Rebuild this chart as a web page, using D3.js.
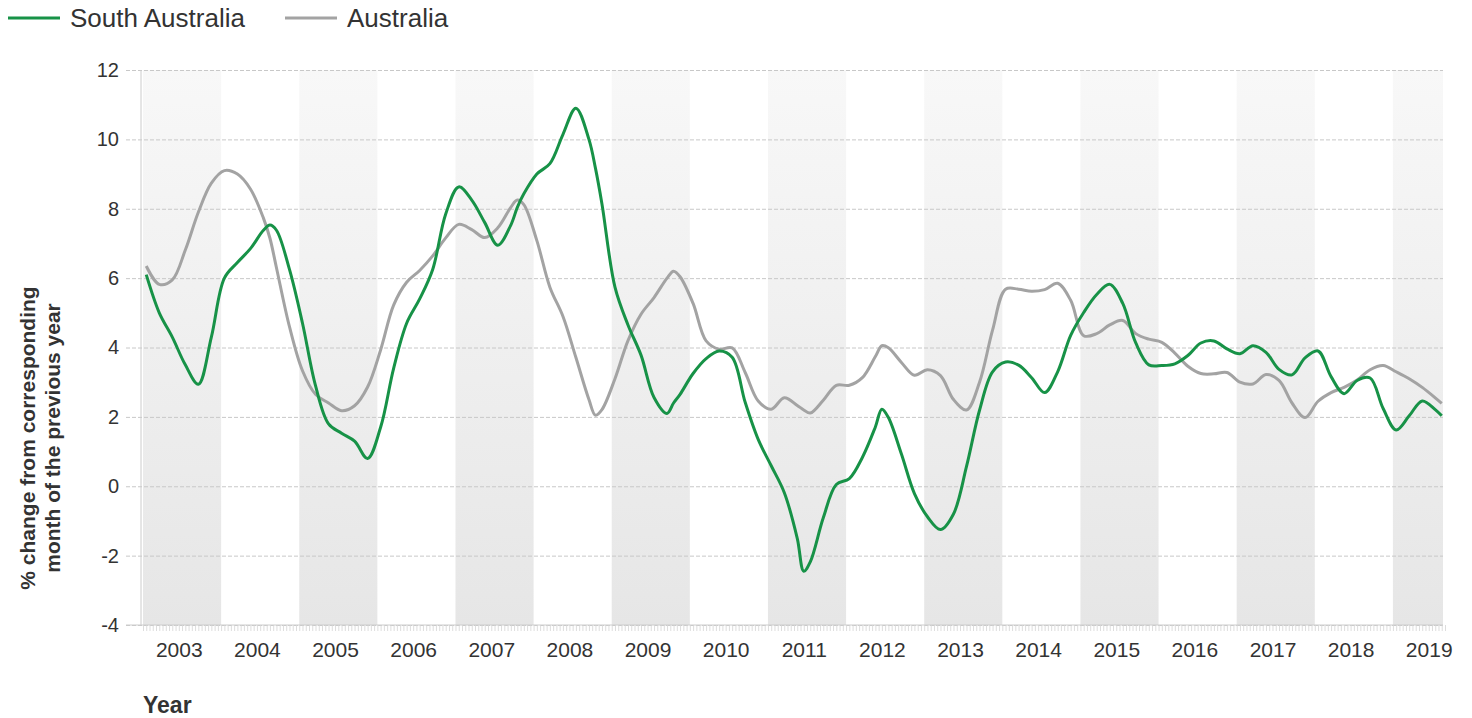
<!DOCTYPE html>
<html>
<head>
<meta charset="utf-8">
<script src="https://cdn.jsdelivr.net/npm/d3@7"></script>
<style>
  body { margin: 0; background: #fff; }
  text { font-family: "Liberation Sans", Arial, sans-serif; fill: #333; }
</style>
</head>
<body>
<div id="chart"></div>
<script>
// sampled months (about every 2 months, extra ones at turning points)
const months = [
  "2003-01","2003-03","2003-05","2003-07","2003-09","2003-11",
  "2004-01","2004-03","2004-05","2004-07","2004-08","2004-09","2004-11",
  "2005-01","2005-03","2005-05","2005-07","2005-09","2005-11",
  "2006-01","2006-03","2006-05","2006-07","2006-09","2006-11",
  "2007-01","2007-03","2007-05","2007-07","2007-09","2007-10","2007-11",
  "2008-01","2008-03","2008-05","2008-07","2008-09","2008-10","2008-11",
  "2009-01","2009-03","2009-05","2009-07","2009-09","2009-10","2009-11",
  "2010-01","2010-03","2010-05","2010-07","2010-09","2010-11",
  "2011-01","2011-03","2011-05","2011-06","2011-07","2011-09","2011-11",
  "2012-01","2012-03","2012-05","2012-06","2012-07","2012-09","2012-11",
  "2013-01","2013-03","2013-05","2013-07","2013-09","2013-11",
  "2014-01","2014-03","2014-05","2014-07","2014-09","2014-11",
  "2015-01","2015-03","2015-05","2015-07","2015-09","2015-11",
  "2016-01","2016-03","2016-05","2016-07","2016-09","2016-11",
  "2017-01","2017-03","2017-05","2017-07","2017-09","2017-11",
  "2018-01","2018-03","2018-05","2018-07","2018-09","2018-11",
  "2019-01","2019-03","2019-05","2019-07","2019-08"
];

const southAustralia = [
  6.1, 5.0, 4.3, 3.5, 2.94, 4.3,
  6.0, 6.45, 6.85, 7.38, 7.53, 7.38, 6.25,
  4.7, 2.9, 1.8, 1.53, 1.3, 0.8,
  1.7, 3.4, 4.7, 5.4, 6.25, 7.85,
  8.63, 8.25, 7.6, 6.95, 7.53, 8.04, 8.43,
  9.0, 9.3, 10.14, 10.9, 10.0, 9.17, 8.14,
  5.74, 4.65, 3.78, 2.56, 2.1, 2.4, 2.65,
  3.25, 3.68, 3.9, 3.72, 2.42, 1.35,
  0.59, -0.18, -1.5, -2.45, -2.18, -0.91, 0.05,
  0.22, 0.83, 1.71, 2.22, 1.98, 0.93, -0.21,
  -0.88, -1.25, -0.8, 0.57, 2.19, 3.3,
  3.58, 3.49, 3.13, 2.7, 3.3, 4.35,
  5.01, 5.53, 5.82, 5.27, 4.13, 3.5,
  3.48, 3.53, 3.77, 4.13, 4.19, 3.96,
  3.82, 4.05, 3.86, 3.37, 3.21, 3.7,
  3.9, 3.16, 2.67, 3.05, 3.12, 2.24,
  1.62, 2.03, 2.46, 2.21, 2.03
];

const australia = [
  6.35, 5.82, 5.95, 6.81, 7.9, 8.74,
  9.1, 9.0, 8.57, 7.73, 7.15, 6.3, 4.6,
  3.33, 2.65, 2.4, 2.18, 2.32, 2.86,
  3.93, 5.22, 5.88, 6.22, 6.64, 7.16,
  7.55, 7.4, 7.17, 7.45, 8.04, 8.25, 8.12,
  7.08, 5.74, 4.9, 3.71, 2.5, 2.05, 2.21,
  3.1, 4.2, 4.96, 5.44, 6.0, 6.2, 6.04,
  5.27, 4.19, 3.95, 3.99, 3.28, 2.46,
  2.22, 2.55, 2.33, 2.2, 2.11, 2.48, 2.91,
  2.91, 3.13, 3.74, 4.05, 3.99, 3.57, 3.2,
  3.36, 3.19, 2.5, 2.2, 3.0, 4.5,
  5.68, 5.68, 5.62, 5.67, 5.85, 5.36,
  4.34, 4.4, 4.65, 4.78, 4.4, 4.24,
  4.15, 3.84, 3.46, 3.25, 3.24, 3.28,
  3.0, 2.95, 3.22, 3.05, 2.4, 1.98,
  2.45, 2.7, 2.85, 3.06, 3.36, 3.48,
  3.3, 3.1, 2.85, 2.55, 2.39
];

const years = d3.range(2003, 2020);
const yTicks = [-4, -2, 0, 2, 4, 6, 8, 10, 12];
const seriesNames = ["South Australia", "Australia"];
const seriesColors = ["#179247", "#a3a3a3"];

const width = 1472, height = 718;
const plotLeft = 143, plotRight = 1443, plotTop = 70, plotBottom = 625;

// month index from Jan 2003
const monthIndex = s => (+s.slice(0, 4) - 2003) * 12 + (+s.slice(5, 7) - 1);

const svg = d3.select("#chart").append("svg")
    .attr("width", width)
    .attr("height", height);

// x: month index, each month a slot
const x = d3.scaleLinear()
    .domain([-0.5, 199.5])
    .range([plotLeft, 1445]);

const y = d3.scaleLinear()
    .domain([-4, 12])
    .range([plotBottom, plotTop]);

// shading gradient for alternate years
const grad = svg.append("defs").append("linearGradient")
    .attr("id", "bandGrad")
    .attr("x1", "0%").attr("x2", "0%")
    .attr("y1", "0%").attr("y2", "100%");
grad.append("stop").attr("offset", "0%").attr("stop-color", "#f8f8f8");
grad.append("stop").attr("offset", "100%").attr("stop-color", "#e6e6e6");

svg.append("g").selectAll("rect")
    .data(years.filter(d => (d - 2003) % 2 === 0))
    .enter().append("rect")
    .attr("x", d => x((d - 2003) * 12 - 0.5))
    .attr("width", d => Math.min(x((d - 2003) * 12 + 11.5), plotRight) - x((d - 2003) * 12 - 0.5))
    .attr("y", plotTop)
    .attr("height", plotBottom - plotTop)
    .attr("fill", "url(#bandGrad)");

// y gridlines + labels
const yAxis = d3.axisLeft(y)
    .tickValues(yTicks)
    .tickSize(-(plotRight - 126))
    .tickPadding(7)
    .tickFormat(d => String(d));

const yG = svg.append("g")
    .attr("transform", "translate(126,0)")
    .call(yAxis);
yG.select(".domain").remove();
yG.selectAll(".tick line")
    .attr("stroke", "#c8c8c8")
    .attr("stroke-dasharray", "4,2");
yG.selectAll(".tick text")
    .style("font-size", "20px")
    .attr("fill", "#333");

// left axis line
svg.append("line")
    .attr("x1", 141).attr("x2", 141)
    .attr("y1", plotTop).attr("y2", plotBottom)
    .attr("stroke", "#ccc");

// x minor ticks
const xMinor = d3.axisBottom(x)
    .tickValues(d3.range(-0.5, 199.6, 0.5))
    .tickSize(6)
    .tickFormat("");
const xG = svg.append("g")
    .attr("transform", "translate(0," + plotBottom + ")")
    .call(xMinor);
xG.select(".domain").remove();
xG.selectAll(".tick line").attr("stroke", "#ddd");
svg.append("line")
    .attr("x1", 126).attr("x2", plotRight)
    .attr("y1", plotBottom).attr("y2", plotBottom)
    .attr("stroke", "#ccc");

// year labels (centered on mid year)
const xLabels = d3.axisBottom(x)
    .tickValues(years.map(d => (d - 2003) * 12 + 5))
    .tickSize(0)
    .tickPadding(17)
    .tickFormat((d, i) => years[i]);
const xl = svg.append("g")
    .attr("transform", "translate(0," + plotBottom + ")")
    .call(xLabels);
xl.select(".domain").remove();
xl.selectAll(".tick text")
    .style("font-size", "21px")
    .attr("fill", "#333");

// lines
const line = d3.line()
    .x((d, i) => x(monthIndex(months[i])))
    .y(d => y(d))
    .curve(d3.curveCatmullRom.alpha(0.5));

svg.append("path")
    .datum(australia)
    .attr("d", line)
    .attr("fill", "none")
    .attr("stroke", seriesColors[1])
    .attr("stroke-width", 3);

svg.append("path")
    .datum(southAustralia)
    .attr("d", line)
    .attr("fill", "none")
    .attr("stroke", seriesColors[0])
    .attr("stroke-width", 3);

// axis titles
svg.append("text")
    .attr("x", 143)
    .attr("y", 713)
    .style("font-size", "23px")
    .style("font-weight", "bold")
    .attr("fill", "#111")
    .text("Year");

const yTitle = svg.append("text")
    .attr("transform", "translate(0,438) rotate(-90)")
    .attr("text-anchor", "middle")
    .style("font-size", "21px")
    .style("font-weight", "bold")
    .attr("fill", "#111");
yTitle.append("tspan").attr("x", 0).attr("y", 35).text("% change from corresponding");
yTitle.append("tspan").attr("x", 0).attr("y", 60).text("month of the previous year");

// legend
const legendX = [8, 285];
const legend = svg.append("g").selectAll("g")
    .data(seriesNames)
    .enter().append("g")
    .attr("transform", (d, i) => "translate(" + legendX[i] + ",0)");
legend.append("line")
    .attr("x1", 0).attr("x2", 52)
    .attr("y1", 18).attr("y2", 18)
    .attr("stroke", (d, i) => seriesColors[i])
    .attr("stroke-width", 3);
legend.append("text")
    .attr("x", 62)
    .attr("y", 27)
    .style("font-size", "26px")
    .attr("fill", "#333")
    .text(d => d);
</script>
</body>
</html>
